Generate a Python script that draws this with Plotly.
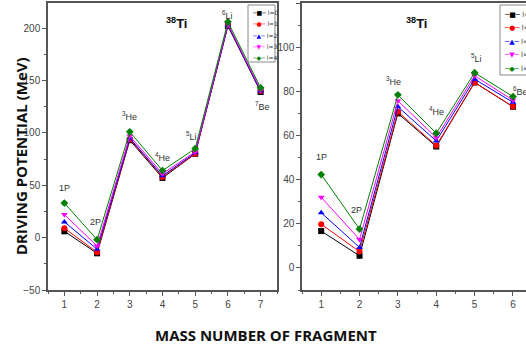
import plotly.graph_objects as go

# ---------------- data ----------------
series_names = ["l=0", "l=1", "l=2", "l=3", "l=4"]

left_fragments = [1, 2, 3, 4, 5, 6, 7]
left_l0 = [6, -15, 93, 57, 80, 202, 139]
left_l1 = [9, -14, 94, 58, 80, 203, 140]
left_l2 = [15, -11, 95, 59, 81, 203, 140]
left_l3 = [22, -8, 97, 61, 82, 204, 141]
left_l4 = [33, -2, 101, 64, 85, 206, 143]
left_labels = ["1P", "2P", "<sup>3</sup>He", "<sup>4</sup>He", "<sup>5</sup>Li", "<sup>6</sup>Li", "<sup>7</sup>Be"]

right_fragments = [1, 2, 3, 4, 5, 6]
right_l0 = [16.7, 5.5, 70, 55, 84, 73]
right_l1 = [19.8, 7.4, 70.7, 55.4, 84, 73.1]
right_l2 = [25, 9.3, 73, 57.5, 85.5, 75]
right_l3 = [32, 12.9, 75.7, 59, 87, 76]
right_l4 = [42.3, 17.6, 78.4, 61, 88.4, 77.6]
right_labels = ["1P", "2P", "<sup>3</sup>He", "<sup>4</sup>He", "<sup>5</sup>Li", "<sup>6</sup>Be"]

nucleus_label = "<sup>38</sup>Ti"
y_title = "DRIVING POTENTIAL (MeV)"
x_title = "MASS NUMBER OF FRAGMENT"

# ---------------- styles ----------------
colors = ["#000000", "#ff0000", "#0000ff", "#ff00ff", "#008000"]
symbols = ["square", "circle", "triangle-up", "triangle-down", "diamond"]
glyphs = ["\u25a0", "\u25cf", "\u25b2", "\u25bc", "\u25c6"]
left_shift = [(0, 15), (-2, 18), (0, 16), (0, 14), (-4, 13), (0, 7), (2, -14)]
right_shift = [(0, 18), (-3, 19), (-4, 14), (0, 22), (2, 15), (8, 6)]

W, H = 526, 347


def px(x):
    return x / W


def py(y):
    return 1 - y / H


fig = go.Figure()
left_sets = [left_l0, left_l1, left_l2, left_l3, left_l4]
right_sets = [right_l0, right_l1, right_l2, right_l3, right_l4]

for i, name in enumerate(series_names):
    fig.add_trace(go.Scatter(
        x=left_fragments, y=left_sets[i], name=name, mode="lines+markers",
        line=dict(color=colors[i], width=1),
        marker=dict(symbol=symbols[i], size=6, color=colors[i]),
        xaxis="x", yaxis="y", showlegend=False))
for i, name in enumerate(series_names):
    fig.add_trace(go.Scatter(
        x=right_fragments, y=right_sets[i], name=name, mode="lines+markers",
        line=dict(color=colors[i], width=1),
        marker=dict(symbol=symbols[i], size=6, color=colors[i]),
        xaxis="x2", yaxis="y2", showlegend=False))

ann = []
shapes = []
lab_font = dict(family="Liberation Sans Narrow, Arial Narrow, sans-serif", size=9, color="#333")
for k, lab in enumerate(left_labels):
    dx, dy = left_shift[k]
    ref = max(s[k] for s in left_sets) if dy > 0 else min(s[k] for s in left_sets)
    ann.append(dict(x=left_fragments[k], y=ref, xref="x", yref="y", text=lab, showarrow=False,
                    xshift=dx, yshift=dy, font=lab_font))
for k, lab in enumerate(right_labels):
    dx, dy = right_shift[k]
    ref = max(s[k] for s in right_sets)
    ann.append(dict(x=right_fragments[k], y=ref, xref="x2", yref="y2", text=lab, showarrow=False,
                    xshift=dx, yshift=dy, font=lab_font))

ti_font = dict(family="Liberation Sans Narrow, Arial Narrow, sans-serif", size=13, color="#111")
for cx in (176, 416):
    ann.append(dict(x=px(cx), y=py(23), xref="paper", yref="paper", text="<b>" + nucleus_label + "</b>",
                    showarrow=False, xanchor="center", yanchor="middle", font=ti_font))
ann.append(dict(x=px(21), y=py(156), xref="paper", yref="paper", text="<b>" + y_title + "</b>",
                showarrow=False, textangle=-90, xanchor="center", yanchor="middle",
                font=dict(family="Open Sans, sans-serif", size=15, color="#111")))
ann.append(dict(x=px(266), y=py(335), xref="paper", yref="paper", text="<b>" + x_title + "</b>",
                showarrow=False, xanchor="center", yanchor="middle",
                font=dict(family="Open Sans, sans-serif", size=15, color="#111")))


# compact legends (box + entries) for the two panels
def add_legend(x0, x1, y0, y1, rows, fs):
    shapes.append(dict(type="rect", xref="paper", yref="paper", x0=px(x0), x1=px(x1), y0=py(y1), y1=py(y0),
                       line=dict(color="#888", width=1), fillcolor="white", layer="above"))
    for i, name in enumerate(series_names):
        txt = ("<span style='color:%s'>\u2500%s\u2500</span> <span style='color:#333'>%s</span>"
               % (colors[i], glyphs[i], name))
        ann.append(dict(x=px(x0 + 2), y=py(rows[i]), xref="paper", yref="paper", text=txt, showarrow=False,
                        xanchor="left", yanchor="middle",
                        font=dict(family="DejaVu Sans, sans-serif", size=fs)))


add_legend(248, 275, 5, 62, [13, 24, 35, 46, 57], 6)
add_legend(500, 540, 5, 75, [15, 28, 42, 55, 69], 7)

tick_font = dict(family="Liberation Sans Narrow, Arial Narrow, sans-serif", size=10, color="#444")
axis_common = dict(showgrid=False, zeroline=False, showline=True, linecolor="#555", linewidth=1.5,
                   ticks="outside", ticklen=4, tickcolor="#555", tickfont=tick_font)

ydom = [py(290), py(3)]
fig.update_layout(
    width=W, height=H,
    margin=dict(l=0, r=0, t=0, b=0, autoexpand=False),
    paper_bgcolor="white", plot_bgcolor="white",
    showlegend=False,
    xaxis=dict(domain=[px(48), px(277)], range=[0.5, 7.5], dtick=1, mirror=True, anchor="y",
               minor=dict(dtick=0.5, ticks="outside", ticklen=2, tickcolor="#555"), **axis_common),
    yaxis=dict(domain=ydom, range=[-50, 224], dtick=50, mirror=True, anchor="x",
               minor=dict(dtick=25, ticks="outside", ticklen=2, tickcolor="#555"), **axis_common),
    xaxis2=dict(domain=[px(302), 1.0], range=[0.5, 6.34], dtick=1, mirror=True, anchor="y2",
                minor=dict(dtick=0.5, ticks="outside", ticklen=2, tickcolor="#555"), **axis_common),
    yaxis2=dict(domain=ydom, range=[-10, 120], dtick=20, mirror=False, anchor="x2",
                minor=dict(dtick=10, ticks="outside", ticklen=2, tickcolor="#555"), **axis_common),
    annotations=ann,
    shapes=shapes,
)

fig.write_html("out.html", config={"displayModeBar": False},
               post_script="document.body.style.margin='0';document.body.style.overflow='hidden';")
